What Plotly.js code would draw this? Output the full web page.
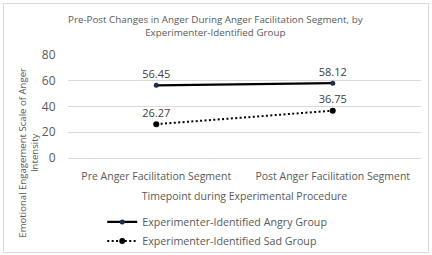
<!DOCTYPE html>
<html>
<head>
<meta charset="utf-8">
<script src="https://cdn.plot.ly/plotly-3.0.1.min.js"></script>
<style>
  html, body { margin: 0; padding: 0; background: #ffffff; }
  #frame { position: absolute; left: 3px; top: 3px; width: 424px; height: 248px; border: 1px solid #d9d9d9; }
  #chart { position: absolute; left: 0; top: 0; width: 432px; height: 255px; }
</style>
</head>
<body>
<div id="frame"></div>
<div id="chart"></div>
<script>
// Timepoints on the category axis
const timepoints = ['Pre Anger Facilitation Segment', 'Post Anger Facilitation Segment'];
// Mean anger intensity per group
const angryGroup = [56.45, 58.12];
const sadGroup = [26.27, 36.75];
const yTicks = [0, 20, 40, 60, 80];

const grey = '#595959';
const font = 'Open Sans, sans-serif';

const traces = [
  {
    x: timepoints, y: angryGroup,
    name: 'Experimenter-Identified Angry Group',
    mode: 'lines+markers+text',
    line: { color: '#000000', width: 2.25 },
    marker: { color: '#1f2d4d', size: 5 },
    text: angryGroup.map(v => v.toFixed(2)),
    textposition: 'top center',
    textfont: { family: font, size: 11, color: '#404040' },
    cliponaxis: false
  },
  {
    x: timepoints, y: sadGroup,
    name: 'Experimenter-Identified Sad Group',
    mode: 'lines+markers+text',
    line: { color: '#000000', width: 2, dash: '2px,2.4px' },
    marker: { color: '#000000', size: 6 },
    text: sadGroup.map(v => v.toFixed(2)),
    textposition: 'top center',
    textfont: { family: font, size: 11, color: '#404040' },
    cliponaxis: false
  }
];

const layout = {
  width: 432, height: 255,
  margin: { l: 68, r: 11, t: 55, b: 97, autoexpand: false },
  paper_bgcolor: 'rgba(0,0,0,0)',
  plot_bgcolor: 'rgba(0,0,0,0)',
  font: { family: font, color: grey, size: 11 },
  xaxis: {
    type: 'category',
    range: [-0.5, 1.5],
    showgrid: false, zeroline: false, showline: false,
    ticks: '',
    ticklabelstandoff: 10,
    tickfont: { family: font, size: 10.5, color: grey },
    title: { text: 'Timepoint during Experimental Procedure', font: { family: font, size: 10.5, color: grey }, standoff: 11 }
  },
  yaxis: {
    range: [0, 80],
    tickvals: yTicks,
    gridcolor: '#d9d9d9', gridwidth: 1,
    zeroline: true, zerolinecolor: '#d9d9d9', zerolinewidth: 1,
    showline: false,
    // invisible ticks keep the labels clear of the plot edge
    ticks: 'outside', ticklen: 9, tickcolor: 'rgba(0,0,0,0)',
    tickfont: { family: font, size: 12, color: grey }
  },
  showlegend: true,
  legend: {
    orientation: 'v',
    x: 0.097, xanchor: 'left',
    y: -0.48, yanchor: 'top',
    font: { family: font, size: 10.7, color: grey },
    itemwidth: 30,
    tracegroupgap: 0
  },
  annotations: [
    {
      text: 'Pre-Post Changes in Anger During Anger Facilitation Segment, by<br>Experimenter-Identified Group',
      xref: 'paper', yref: 'paper',
      x: 0.419, y: 1.277,
      xanchor: 'center', yanchor: 'middle',
      showarrow: false,
      font: { family: font, size: 9.8, color: grey }
    },
    {
      text: 'Emotional Engagement Scale of Anger<br>Intensity',
      textangle: -90,
      xref: 'paper', yref: 'paper',
      x: -0.113, y: 0.053,
      xanchor: 'center', yanchor: 'middle',
      showarrow: false,
      font: { family: font, size: 9.6, color: grey }
    }
  ]
};

Plotly.newPlot('chart', traces, layout, { displayModeBar: false, staticPlot: true });
</script>
</body>
</html>
